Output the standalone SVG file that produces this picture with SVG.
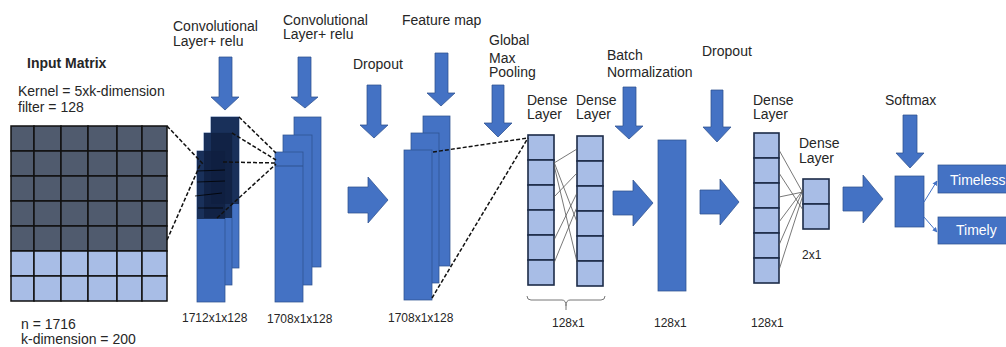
<svg xmlns="http://www.w3.org/2000/svg" width="1006" height="347" viewBox="0 0 1006 347">
<defs>
<style>
text{font-family:"Liberation Sans",Arial,sans-serif;fill:#262626;font-size:14px}
.b{font-weight:bold}
.s{font-size:12px}
.w{fill:#fff}
.blk{fill:#4472c4;stroke:#2f528f;stroke-width:0.75}
.dk{fill:#505b6e;stroke:#111;stroke-width:1.5}
.lt{fill:#a8bde6;stroke:#111;stroke-width:1.5}
.cell{fill:#a8bde6;stroke:#1c2b48;stroke-width:1.6}
.ov{fill:#0f1f40;opacity:0.8}
.dash{stroke:#111;stroke-width:1.5;stroke-dasharray:4 2;fill:none}
.thin{stroke:#555;stroke-width:0.8;fill:none}
.grid{stroke:#000;stroke-width:0.8}
</style>
<marker id="ah" viewBox="0 0 10 10" refX="9" refY="5" markerWidth="5" markerHeight="5" orient="auto"><path d="M0,0 L10,5 L0,10 z" fill="#4472c4"/></marker>
</defs>
<rect width="1006" height="347" fill="#fff"/>

<g id="input-matrix">
<text class="b" x="27" y="68">Input Matrix</text>
<text x="18" y="96">Kernel = 5xk-dimension</text>
<text x="18" y="112">filter = 128</text>
<g class="dk">
<rect x="11" y="126" width="23" height="25"/><rect x="34" y="126" width="27" height="25"/><rect x="61" y="126" width="27" height="25"/><rect x="88" y="126" width="29" height="25"/><rect x="117" y="126" width="25" height="25"/><rect x="142" y="126" width="25" height="25"/>
<rect x="11" y="151" width="23" height="25"/><rect x="34" y="151" width="27" height="25"/><rect x="61" y="151" width="27" height="25"/><rect x="88" y="151" width="29" height="25"/><rect x="117" y="151" width="25" height="25"/><rect x="142" y="151" width="25" height="25"/>
<rect x="11" y="176" width="23" height="25"/><rect x="34" y="176" width="27" height="25"/><rect x="61" y="176" width="27" height="25"/><rect x="88" y="176" width="29" height="25"/><rect x="117" y="176" width="25" height="25"/><rect x="142" y="176" width="25" height="25"/>
<rect x="11" y="201" width="23" height="25"/><rect x="34" y="201" width="27" height="25"/><rect x="61" y="201" width="27" height="25"/><rect x="88" y="201" width="29" height="25"/><rect x="117" y="201" width="25" height="25"/><rect x="142" y="201" width="25" height="25"/>
<rect x="11" y="226" width="23" height="25"/><rect x="34" y="226" width="27" height="25"/><rect x="61" y="226" width="27" height="25"/><rect x="88" y="226" width="29" height="25"/><rect x="117" y="226" width="25" height="25"/><rect x="142" y="226" width="25" height="25"/>
</g>
<g class="lt">
<rect x="11" y="251" width="23" height="25"/><rect x="34" y="251" width="27" height="25"/><rect x="61" y="251" width="27" height="25"/><rect x="88" y="251" width="29" height="25"/><rect x="117" y="251" width="25" height="25"/><rect x="142" y="251" width="25" height="25"/>
<rect x="11" y="276" width="23" height="25"/><rect x="34" y="276" width="27" height="25"/><rect x="61" y="276" width="27" height="25"/><rect x="88" y="276" width="29" height="25"/><rect x="117" y="276" width="25" height="25"/><rect x="142" y="276" width="25" height="25"/>
</g>
<text x="21" y="329">n = 1716</text>
<text x="21" y="344">k-dimension = 200</text>
</g>

<g id="conv1">
<text x="173" y="31">Convolutional</text>
<text x="173" y="46">Layer+ relu</text>
<rect class="blk" x="211" y="117" width="28" height="151"/>
<rect class="blk" x="204" y="133" width="28" height="152"/>
<rect class="blk" x="197" y="151" width="28" height="151"/>
<rect class="ov" x="211" y="117" width="28" height="87"/>
<rect class="ov" x="204" y="133" width="28" height="85"/>
<rect class="ov" x="197" y="151" width="28" height="68"/>
<line class="grid" x1="197" y1="171" x2="225" y2="170"/>
<line class="grid" x1="197" y1="182" x2="225" y2="181"/>
<line class="grid" x1="195" y1="196" x2="222" y2="193"/>
<line class="grid" x1="198" y1="208" x2="223" y2="208"/>
<text class="s" x="182" y="322">1712x1x128</text>
</g>

<g id="conv2">
<text x="283" y="25">Convolutional</text>
<text x="283" y="39">Layer+ relu</text>
<rect class="blk" x="294" y="117" width="27" height="150"/>
<rect class="blk" x="283" y="135" width="29" height="150"/>
<rect class="blk" x="275" y="152" width="28" height="150"/>
<line x1="275" y1="166" x2="303" y2="166" stroke="#2f528f" stroke-width="1"/>
<text class="s" x="267" y="323">1708x1x128</text>
</g>

<g id="dropout1">
<text x="353" y="69">Dropout</text>
</g>

<g id="feature-map">
<text x="402" y="25">Feature map</text>
<rect class="blk" x="423" y="116" width="27" height="150"/>
<rect class="blk" x="411" y="133" width="28" height="150"/>
<rect class="blk" x="404" y="150" width="28" height="150"/>
<text class="s" x="388" y="322">1708x1x128</text>
</g>

<g id="global-max-pooling">
<text x="489" y="45">Global</text>
<text x="489" y="63">Max</text>
<text x="489" y="77">Pooling</text>
</g>

<g id="dense1">
<text x="527" y="105">Dense</text>
<text x="527" y="119">Layer</text>
<rect class="cell" x="528" y="135" width="26" height="25"/><rect class="cell" x="528" y="160" width="26" height="25"/><rect class="cell" x="528" y="185" width="26" height="25"/><rect class="cell" x="528" y="210" width="26" height="25"/><rect class="cell" x="528" y="235" width="26" height="25"/><rect class="cell" x="528" y="260" width="26" height="25"/>
</g>

<g id="dense2">
<text x="576" y="105">Dense</text>
<text x="576" y="119">Layer</text>
<rect class="cell" x="577" y="136" width="26" height="25"/><rect class="cell" x="577" y="161" width="26" height="25"/><rect class="cell" x="577" y="186" width="26" height="25"/><rect class="cell" x="577" y="211" width="26" height="25"/><rect class="cell" x="577" y="236" width="26" height="25"/><rect class="cell" x="577" y="261" width="26" height="25"/>
<path d="M527,296 Q527,300 531,300 L562,300 Q566,300 566,306 L566,310 M566,306 Q566,300 570,300 L601,300 Q605,300 605,296" fill="none" stroke="#777" stroke-width="1"/>
<text class="s" x="552" y="327">128x1</text>
</g>

<g id="batch-norm">
<text x="607" y="60">Batch</text>
<text x="607" y="77">Normalization</text>
<rect class="blk" x="658" y="140" width="28" height="151"/>
<text class="s" x="654" y="327">128x1</text>
</g>

<g id="dropout2">
<text x="702" y="56">Dropout</text>
</g>

<g id="dense3">
<text x="753" y="105">Dense</text>
<text x="753" y="119">Layer</text>
<rect class="cell" x="754" y="133" width="25" height="25"/><rect class="cell" x="754" y="158" width="25" height="25"/><rect class="cell" x="754" y="183" width="25" height="25"/><rect class="cell" x="754" y="208" width="25" height="25"/><rect class="cell" x="754" y="233" width="25" height="25"/><rect class="cell" x="754" y="258" width="25" height="25"/>
<text class="s" x="751" y="327">128x1</text>
</g>

<g id="dense4">
<text x="799" y="148">Dense</text>
<text x="799" y="163">Layer</text>
<rect class="cell" x="803" y="179" width="26" height="25"/><rect class="cell" x="803" y="204" width="26" height="25"/>
<text class="s" x="802" y="259">2x1</text>
</g>

<g id="softmax">
<text x="885" y="105">Softmax</text>
<rect class="blk" x="895" y="176" width="29" height="51"/>
</g>

<g id="out-timeless">
<rect class="blk" x="938" y="165" width="72" height="28"/>
<text class="w" x="950" y="185">Timeless</text>
</g>

<g id="out-timely">
<rect class="blk" x="938" y="217" width="72" height="27"/>
<text class="w" x="956" y="235">Timely</text>
</g>

<g id="connectors">
<g class="dash">
<line x1="167" y1="126" x2="203" y2="164"/>
<line x1="167" y1="240" x2="200" y2="165"/>
<line x1="239" y1="117" x2="276" y2="153"/>
<line x1="232" y1="133" x2="276" y2="160"/>
<line x1="223" y1="162" x2="276" y2="163"/>
<line x1="217" y1="218" x2="276" y2="164"/>
<line x1="433" y1="152" x2="528" y2="138"/>
<line x1="432" y1="298" x2="528" y2="138"/>
</g>
<g class="thin">
<line x1="577" y1="149" x2="554" y2="163"/>
<line x1="577" y1="173" x2="554" y2="197"/>
<line x1="554" y1="162" x2="577" y2="222"/>
<line x1="554" y1="165" x2="577" y2="262"/>
<line x1="577" y1="193" x2="554" y2="240"/>
<line x1="577" y1="207" x2="554" y2="263"/>
<line x1="779" y1="150" x2="803" y2="193"/>
<line x1="779" y1="173" x2="803" y2="210"/>
<line x1="779" y1="197" x2="803" y2="192"/>
<line x1="779" y1="222" x2="803" y2="190"/>
<line x1="779" y1="245" x2="803" y2="190"/>
<line x1="779" y1="270" x2="803" y2="195"/>
</g>
<line x1="924" y1="202" x2="937" y2="181" stroke="#4472c4" stroke-width="1" marker-end="url(#ah)"/>
<line x1="924" y1="217" x2="937" y2="232" stroke="#4472c4" stroke-width="1" marker-end="url(#ah)"/>
<g class="blk">
<path d="M219,57 H232 V97 H239 L225,110 L211,97 H219 Z"/>
<path d="M298,57 H311 V97 H318 L305,108 L291,97 H298 Z"/>
<path d="M367,85 H381 V125 H388 L374,138 L360,125 H367 Z"/>
<path d="M435,53 H448 V93 H455 L441,106 L427,93 H435 Z"/>
<path d="M492,85 H504 V123 H512 L498,137 L484,123 H492 Z"/>
<path d="M623,87 H636 V126 H643 L629,139 L615,126 H623 Z"/>
<path d="M711,90 H723 V127 H731 L717,142 L703,127 H711 Z"/>
<path d="M903,115 H917 V153 H924 L910,168 L896,153 H903 Z"/>
<path d="M348,187 H368 V177 L388,200 L368,223 V213 H348 Z"/>
<path d="M613,191 H633 V180 L653,203 L633,226 V215 H613 Z"/>
<path d="M700,190 H720 V179 L739,202 L720,225 V214 H700 Z"/>
<path d="M843,187 H863 V175 L883,199 L863,223 V211 H843 Z"/>
</g>
</g>
</svg>
